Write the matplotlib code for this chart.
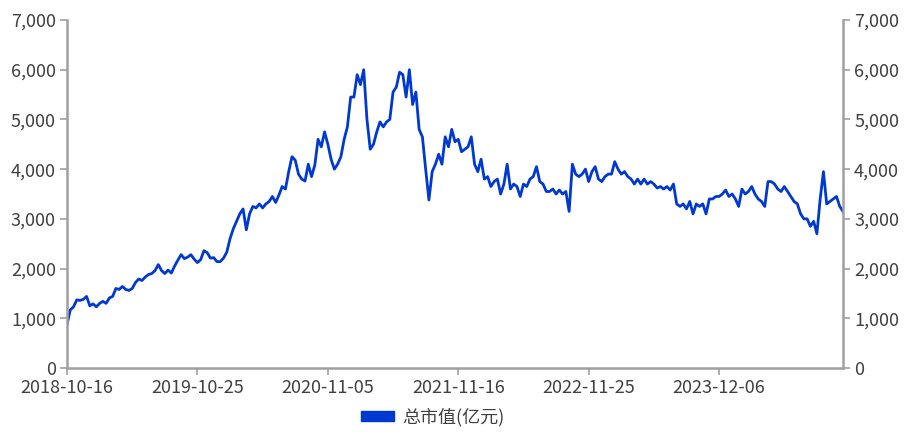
import matplotlib
matplotlib.use("Agg")
import matplotlib.pyplot as plt
import numpy as np
from matplotlib.patches import Patch
from matplotlib.ticker import FuncFormatter

plt.rcParams["font.family"] = ["Noto Sans CJK SC", "DejaVu Sans"]

# 总市值(亿元), 按交易日顺序读取
seg1 = [870, 1170, 1230, 1370, 1360, 1380, 1440, 1250, 1290, 1230,
        1300, 1340, 1300, 1410, 1440, 1600, 1580, 1640, 1580, 1560,
        1600, 1720, 1790, 1760, 1830, 1880, 1900, 1960, 2080, 1960,
        1900, 1970, 1910, 2050, 2170, 2280, 2200, 2230, 2280, 2190]
seg2 = [2120, 2180, 2360, 2320, 2210, 2220, 2140, 2140, 2210, 2330,
        2600, 2800, 2950, 3100, 3200, 2780, 3100, 3250, 3220, 3300,
        3220, 3300, 3350, 3450, 3330, 3480, 3650, 3600, 3950, 4250,
        4180, 3900, 3800, 3760, 4100, 3850, 4080, 4600, 4450, 4750]
seg3 = [4500, 4200, 4000, 4100, 4250, 4600, 4850, 5450, 5450, 5900,
        5700, 6000, 5000, 4400, 4500, 4750, 4950, 4850, 4950, 5000,
        5550, 5650, 5950, 5900, 5450, 6000, 5300, 5550, 4800, 4650,
        4000, 3380, 3950, 4100, 4300, 4100, 4650, 4450, 4800, 4550]
seg4 = [4600, 4350, 4400, 4450, 4650, 4100, 3950, 4200, 3800, 3850,
        3650, 3750, 3800, 3500, 3700, 4100, 3600, 3700, 3650, 3450,
        3700, 3650, 3800, 3850, 4050, 3750, 3700, 3550, 3550, 3600,
        3500, 3580, 3500, 3550, 3150, 4100, 3900, 3850, 3900, 4000]
seg5 = [3750, 3950, 4050, 3800, 3750, 3850, 3900, 3900, 4150, 4000,
        3900, 3950, 3850, 3800, 3700, 3800, 3700, 3800, 3700, 3750,
        3700, 3620, 3650, 3600, 3650, 3580, 3700, 3300, 3250, 3300,
        3200, 3350, 3100, 3300, 3250, 3300, 3100, 3400, 3400, 3450]
seg6 = [3450, 3500, 3580, 3450, 3500, 3400, 3250, 3600, 3500, 3550,
        3650, 3500, 3400, 3350, 3250, 3750, 3750, 3700, 3600, 3550,
        3650, 3550, 3450, 3350, 3300, 3100, 3000, 3000, 2850, 2950,
        2700, 3400, 3950, 3300, 3350, 3400, 3450, 3250, 3150]

values = seg1 + seg2 + seg3 + seg4 + seg5 + seg6
tick_labels = ["2018-10-16", "2019-10-25", "2020-11-05",
               "2021-11-16", "2022-11-25", "2023-12-06"]
series_name = "总市值(亿元)"

line_color = "#0039d1"
axis_color = "#a0a0a0"
text_color = "#404040"

fig = plt.figure(figsize=(9.1, 4.32), dpi=100)
ax = fig.add_axes([67 / 910, 64 / 432, 776 / 910, 348 / 432])

x = np.arange(len(values))
ax.plot(x, values, color=line_color, linewidth=2.0)

ax.set_xlim(0, len(values) - 1)
ax.set_ylim(0, 7000)
step = 40
ax.set_xticks(np.arange(len(tick_labels)) * step)
ax.set_xticklabels(tick_labels)
ax.set_yticks(np.arange(0, 7001, 1000))
ax.yaxis.set_major_formatter(FuncFormatter(lambda v, p: f"{int(v):,}"))

ax2 = ax.twinx()
ax2.set_ylim(0, 7000)
ax2.set_yticks(np.arange(0, 7001, 1000))
ax2.yaxis.set_major_formatter(FuncFormatter(lambda v, p: f"{int(v):,}"))

for a in (ax, ax2):
    a.spines["top"].set_visible(False)
    for s in ("left", "right", "bottom"):
        a.spines[s].set_color(axis_color)
        a.spines[s].set_linewidth(1.8)
    a.tick_params(colors=axis_color, labelcolor=text_color, labelsize=13,
                  length=5, width=1.2, pad=3)
ax.spines["right"].set_visible(False)
ax2.spines["left"].set_visible(False)
ax2.spines["bottom"].set_visible(False)

fig.legend(handles=[Patch(color=line_color, label=series_name)],
           loc="center", bbox_to_anchor=(433 / 910, 15 / 432), frameon=False,
           fontsize=13, handlelength=1.8, handleheight=0.5, handletextpad=0.5,
           labelcolor=text_color)

fig.savefig("out.png", dpi=100)
